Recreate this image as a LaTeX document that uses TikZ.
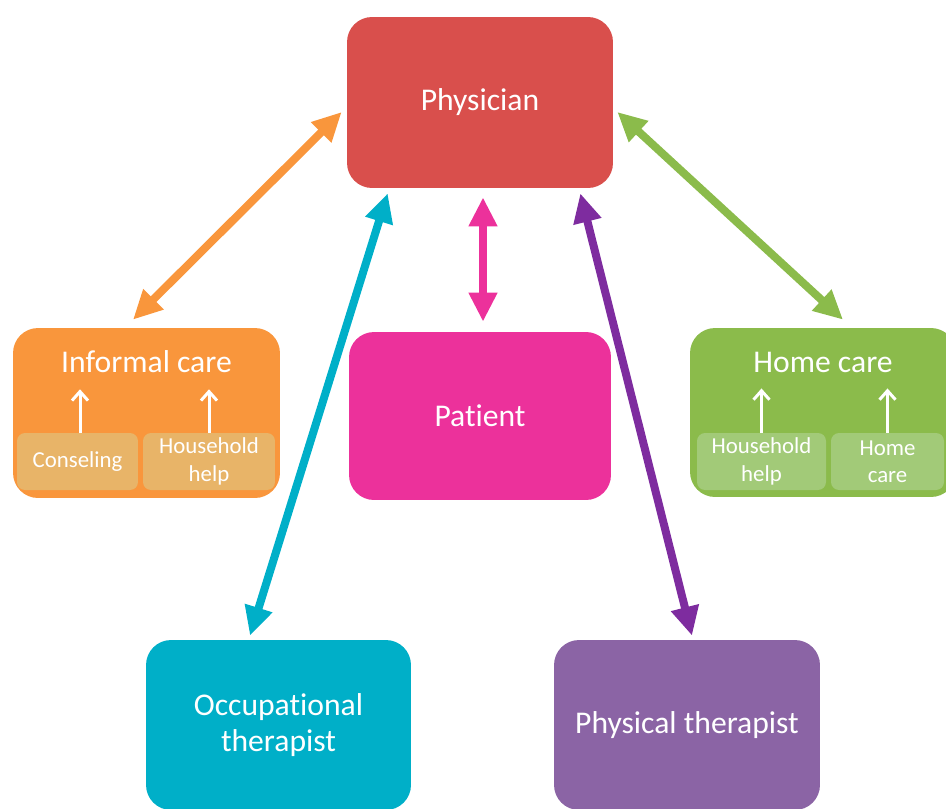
\documentclass[tikz,border=0pt]{standalone}
\usepackage{fontspec}
\setmainfont{Carlito}[Ligatures={NoCommon}]
\usetikzlibrary{arrows.meta}

\definecolor{physred}{HTML}{D94F4C}
\definecolor{patpink}{HTML}{EC319B}
\definecolor{infora}{HTML}{F9963C}
\definecolor{infsub}{HTML}{E8B468}
\definecolor{homegrn}{HTML}{8BBB4B}
\definecolor{homesub}{HTML}{A2CA78}
\definecolor{occcyan}{HTML}{00AFC8}
\definecolor{ptpurp}{HTML}{8B64A5}
\definecolor{ptarrow}{HTML}{7E2C9F}

\tikzset{
  box/.style={rectangle, rounded corners=0.5cm, text=white, align=center, inner sep=0pt,
    font=\fontsize{18}{20.5}\selectfont},
  subbox/.style={rectangle, rounded corners=0.16cm, text=white, align=center, inner sep=0pt,
    minimum height=1.14cm, font=\fontsize{13}{15.5}\selectfont},
  title/.style={text=white, font=\fontsize{18}{20.5}\selectfont},
  link/.style={{Triangle[width=0.54cm,length=0.58cm]}-{Triangle[width=0.54cm,length=0.58cm]}, line width=0.16cm},
  up/.style={-{Straight Barb[length=0.18cm,width=0.32cm]}, white, line width=0.06cm, shorten >=0.2cm}
}

\begin{document}
\begin{tikzpicture}[x=0.02cm, y=0.02cm]
  \useasboundingbox (0,0) rectangle (946,-808);

  \node[box, fill=physred, minimum width=5.32cm, minimum height=3.42cm] (phys) at (480,-102.5) {Physician};
  \node[box, fill=patpink, minimum width=5.24cm, minimum height=3.36cm] (pat) at (480,-416) {Patient};
  \node[box, fill=infora, minimum width=5.34cm, minimum height=3.4cm] (inf) at (146.5,-413) {};
  \node[box, fill=homegrn, minimum width=5.32cm, minimum height=3.38cm] (home) at (823,-412.5) {};
  \node[box, fill=occcyan, minimum width=5.3cm, minimum height=3.4cm] (occ) at (278.5,-725) {Occupational\\therapist};
  \node[box, fill=ptpurp, minimum width=5.32cm, minimum height=3.4cm] (pt) at (687,-725) {Physical therapist};

  % informal care
  \node[title] (inft) at (146.5,-362) {Informal care};
  \node[subbox, fill=infsub, minimum width=2.42cm] (cons) at (77.5,-461.5) {Conseling};
  \node[subbox, fill=infsub, minimum width=2.64cm] (hhelp) at (209,-461.5) {Household\\help};
  \draw[up] ([xshift=0.05cm]cons.north) -- ([xshift=0.05cm]cons.north |- inft.south);
  \draw[up] (hhelp.north) -- (hhelp.north |- inft.south);

  % home care
  \node[title] (homet) at (823,-362) {Home care};
  \node[subbox, fill=homesub, minimum width=2.58cm] (hhelp2) at (761.5,-461.5) {Household\\help};
  \node[subbox, fill=homesub, minimum width=2.26cm] (hcare) at (887.5,-461.5) {Home\\care};
  \draw[up] (hhelp2.north) -- (hhelp2.north |- homet.south);
  \draw[up] (hcare.north) -- (hcare.north |- homet.south);

  \draw[link, infora] ([shift={(-5,-9.5)}]phys.west) -- ([shift={(-13.5,8)}]inf.north);
  \draw[link, homegrn] ([shift={(4,-9.5)}]phys.east) -- ([shift={(20,8)}]home.north);
  \draw[link, patpink] ([shift={(3,-9)}]phys.south) -- ([shift={(3,10)}]pat.north);
  \draw[link, occcyan] ([shift={(41,-5)}]phys.south west) -- ([shift={(-28.5,4)}]occ.north);
  \draw[link, ptarrow] ([shift={(-33,-5)}]phys.south east) -- ([shift={(5,4)}]pt.north);
\end{tikzpicture}
\end{document}
